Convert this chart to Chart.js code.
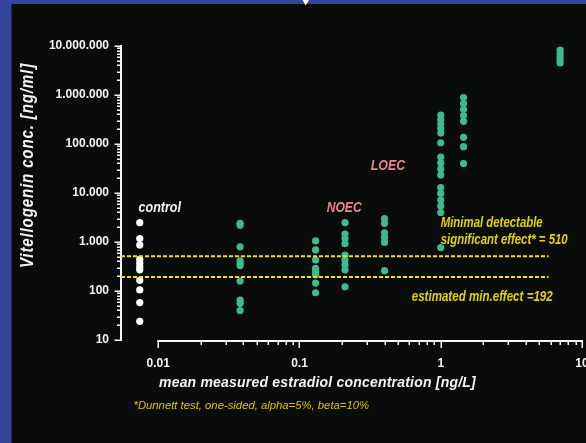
<!DOCTYPE html>
<html>
<head>
<meta charset="utf-8">
<script src="https://cdn.jsdelivr.net/npm/chart.js@4.4.1/dist/chart.umd.min.js"></script>
<style>
  html, body { margin: 0; padding: 0; background: #0a0c0b; overflow: hidden; }
  canvas { display: block; }
</style>
</head>
<body>
<canvas id="vtg" width="586" height="443"></canvas>
<script>
// Mean measured estradiol concentration (ng/L) per exposure group.
// The control has no measurable E2, so it sits left of 0.01 on the log axis.
const concControl = 0.0074;
const concTreatments = [0.038, 0.13, 0.21, 0.40, 1.0, 1.45, 7.0];

// Vitellogenin concentration (ng/ml) of the individual fish in each group
const vtgControl = [2480, 1180, 870, 440, 370, 310, 270, 165, 105, 58, 24];
const vtg0038 = [2400, 2200, 800, 410, 360, 330, 160, 65, 56, 40];
const vtg013 = [1050, 690, 430, 290, 250, 215, 145, 92];
const vtg021 = [2480, 1450, 1180, 920, 540, 430, 340, 270, 122];
const vtg040 = [3000, 2400, 1540, 1240, 980, 260];
const vtg100 = [390000, 316000, 256000, 207000, 167000, 106000, 54000, 41000, 31000, 23300, 12900, 9800, 7200, 5400, 4000, 770];
const vtg145 = [890000, 670000, 510000, 380000, 290000, 137000, 88000, 40000];
const vtg700 = [8200000, 7000000, 6000000, 5200000, 4500000];
const vtgTreatments = [vtg0038, vtg013, vtg021, vtg040, vtg100, vtg145, vtg700];

// Effect thresholds (ng/ml)
const minDetectableEffect = 510;
const estimatedMinEffect = 192;

// Axis ticks
const xTickValues = [0.01, 0.1, 1, 10];
const xTickLabels = ['0.01', '0.1', '1', '10'];
const yTickValues = [10, 100, 1000, 10000, 100000, 1000000, 10000000];
const yTickLabels = ['10', '100', '1.000', '10.000', '100.000', '1.000.000', '10.000.000'];

const X_MIN = 0.00545, X_MAX = 10;
const Y_MIN = 10, Y_MAX = 10000000;
const THRESHOLD_END = 5.8;

const WHITE = '#f4f4f4';
const GREEN = '#3dba90';
const YELLOW_LINE = '#f2e200';
const YELLOW_TEXT = '#e4d200';
const PINK = '#e6878c';
const FONT = '"Liberation Sans", Arial, sans-serif';

const controlPoints = vtgControl.map(v => ({ x: concControl, y: v }));
const treatmentPoints = concTreatments.flatMap((c, i) => vtgTreatments[i].map(v => ({ x: c, y: v })));
const thresholdLine = v => [{ x: X_MIN, y: v }, { x: THRESHOLD_END, y: v }];

// Text placed inside the plot: [text, left x, baseline y, width, colour, font]
const notes = [
  ['control', 138.5, 212.3, 42.5, WHITE, 'italic bold 14px ' + FONT],
  ['NOEC', 326.7, 212.3, 35, PINK, 'italic bold 14px ' + FONT],
  ['LOEC', 370.7, 170, 34.5, PINK, 'italic bold 14px ' + FONT],
  ['Minimal detectable', 440.7, 227.3, 102, YELLOW_TEXT, 'italic bold 14px ' + FONT],
  ['significant effect* = 510', 440.7, 243.5, 127, YELLOW_TEXT, 'italic bold 14px ' + FONT],
  ['estimated min.effect =192', 411.7, 300.7, 141, YELLOW_TEXT, 'italic bold 14px ' + FONT]
];

const decor = {
  id: 'decor',
  beforeDraw(chart) {
    const ctx = chart.ctx;
    ctx.save();
    ctx.fillStyle = '#0a0c0b';
    ctx.fillRect(0, 0, chart.width, chart.height);
    ctx.fillStyle = '#36459b';
    ctx.fillRect(0, 0, 11.5, chart.height);
    ctx.fillRect(0, 0, chart.width, 4);
    ctx.fillStyle = '#ffffff';
    ctx.beginPath();
    ctx.moveTo(302.5, 0);
    ctx.lineTo(309, 0);
    ctx.lineTo(305.7, 5.5);
    ctx.closePath();
    ctx.fill();
    ctx.restore();
  },
  beforeDatasetsDraw(chart) {
    const ctx = chart.ctx;
    const xs = chart.scales.x, ys = chart.scales.y;
    const area = chart.chartArea;
    ctx.save();
    ctx.strokeStyle = WHITE;
    ctx.lineWidth = 2;
    ctx.lineCap = 'butt';
    // y axis
    const ax = area.left;
    ctx.beginPath();
    ctx.moveTo(ax, ys.getPixelForValue(Y_MAX) - 1);
    ctx.lineTo(ax, ys.getPixelForValue(Y_MIN) + 1);
    ctx.stroke();
    ctx.lineWidth = 1.5;
    for (let d = Y_MIN; d <= Y_MAX; d *= 10) {
      for (let m = 1; m <= 9; m++) {
        const v = d * m;
        if (v > Y_MAX) break;
        const py = Math.round(ys.getPixelForValue(v)) + 0.25;
        const len = m === 1 ? 5.5 : 3;
        ctx.beginPath();
        ctx.moveTo(ax - 1 - len, py);
        ctx.lineTo(ax, py);
        ctx.stroke();
      }
    }
    // x axis, starting at 0.01
    const ay = area.bottom + 1;
    ctx.lineWidth = 2;
    ctx.beginPath();
    ctx.moveTo(xs.getPixelForValue(0.01) - 1, ay);
    ctx.lineTo(xs.getPixelForValue(X_MAX) + 1, ay);
    ctx.stroke();
    ctx.lineWidth = 1.5;
    for (let d = 0.01; d <= X_MAX * 1.0001; d *= 10) {
      for (let m = 1; m <= 9; m++) {
        const v = d * m;
        if (v > X_MAX * 1.0001) break;
        const px = Math.round(xs.getPixelForValue(v)) + 0.25;
        const len = m === 1 ? 6 : 3;
        ctx.beginPath();
        ctx.moveTo(px, ay);
        ctx.lineTo(px, ay + 1 + len);
        ctx.stroke();
      }
    }
    ctx.restore();
  },
  afterDraw(chart) {
    const ctx = chart.ctx;
    ctx.save();
    // y axis title
    ctx.fillStyle = WHITE;
    ctx.font = 'italic bold 18px ' + FONT;
    ctx.letterSpacing = '1px';
    ctx.textAlign = 'center';
    ctx.textBaseline = 'alphabetic';
    ctx.save();
    ctx.translate(32.5, 165.5);
    ctx.rotate(-Math.PI / 2);
    ctx.fillText('Vitellogenin conc. [ng/ml]', 0, 0, 205);
    ctx.restore();
    // x axis title
    ctx.letterSpacing = '0.2px';
    ctx.font = 'italic bold 14px ' + FONT;
    ctx.textAlign = 'left';
    ctx.fillText('mean measured estradiol concentration [ng/L]', 159, 387.3);
    // footnote
    ctx.letterSpacing = '0px';
    ctx.fillStyle = '#d8c600';
    ctx.font = 'italic 11.3px ' + FONT;
    ctx.fillText('*Dunnett test, one-sided, alpha=5%, beta=10%', 133.5, 409.3);
    // notes in the plot
    notes.forEach(([t, x, y, w, c, f]) => {
      ctx.fillStyle = c;
      ctx.font = f;
      ctx.fillText(t, x, y, w);
    });
    ctx.restore();
  }
};

new Chart(document.getElementById('vtg'), {
  type: 'scatter',
  data: {
    datasets: [
      {
        label: 'Minimal detectable significant effect',
        data: thresholdLine(minDetectableEffect),
        showLine: true, borderColor: YELLOW_LINE, borderWidth: 2, borderDash: [4, 2],
        pointRadius: 0, order: 1
      },
      {
        label: 'Estimated minimal effect',
        data: thresholdLine(estimatedMinEffect),
        showLine: true, borderColor: YELLOW_LINE, borderWidth: 2, borderDash: [4, 2],
        pointRadius: 0, order: 1
      },
      {
        label: 'control',
        data: controlPoints,
        pointRadius: 3.6, pointBackgroundColor: '#ffffff', pointBorderWidth: 0, order: 2
      },
      {
        label: 'E2 exposure',
        data: treatmentPoints,
        pointRadius: 3.6, pointBackgroundColor: GREEN, pointBorderWidth: 0, order: 2
      }
    ]
  },
  options: {
    responsive: false,
    animation: false,
    devicePixelRatio: 1,
    layout: { padding: { left: 0, top: 46, right: 3, bottom: 0 } },
    plugins: { legend: { display: false }, tooltip: { enabled: false } },
    scales: {
      x: {
        type: 'logarithmic', position: 'bottom', min: X_MIN, max: X_MAX,
        grid: { display: false, drawTicks: false }, border: { display: false },
        afterBuildTicks: s => { s.ticks = xTickValues.map(v => ({ value: v })); },
        afterFit: s => { s.height = 103; s.paddingLeft = 0; s.paddingRight = 0; },
        ticks: {
          callback: v => xTickLabels[xTickValues.indexOf(v)],
          color: WHITE, padding: 16, maxRotation: 0, autoSkip: false,
          font: { family: FONT, weight: 'bold', size: 12 }
        }
      },
      y: {
        type: 'logarithmic', position: 'left', min: Y_MIN, max: Y_MAX,
        grid: { display: false, drawTicks: false }, border: { display: false },
        afterBuildTicks: s => { s.ticks = yTickValues.map(v => ({ value: v })); },
        afterFit: s => { s.width = 121; s.paddingTop = 0; s.paddingBottom = 0; },
        ticks: {
          callback: v => yTickLabels[yTickValues.indexOf(v)],
          color: WHITE, padding: 12, autoSkip: false,
          font: { family: FONT, weight: 'bold', size: 12 }
        }
      }
    }
  },
  plugins: [decor]
});
</script>
</body>
</html>
